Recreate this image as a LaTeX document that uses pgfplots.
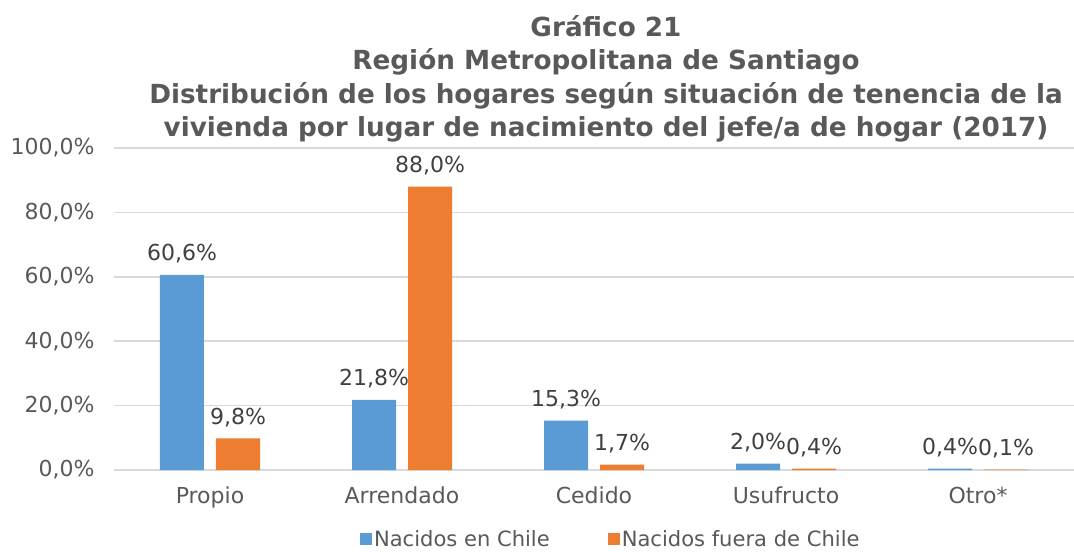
\documentclass[border=0pt]{standalone}
\usepackage{fontspec}
\setmainfont{DejaVu Sans}
\usepackage{pgfplots}
\pgfplotsset{compat=1.18}

\definecolor{cblue}{HTML}{5B9BD5}
\definecolor{corange}{HTML}{ED7D31}
\definecolor{cgrid}{HTML}{D9D9D9}
\definecolor{ctick}{HTML}{595959}
\definecolor{clabel}{HTML}{404040}

\begin{document}
\begin{tikzpicture}
\useasboundingbox (-85.5pt,-60.75pt) rectangle (720pt,352.5pt);
\begin{axis}[
    at={(0pt,0pt)}, anchor=south west,
    scale only axis,
    width=720pt, height=241.5pt,
    ybar=9pt, bar width=33pt,
    xmin=-0.5, xmax=4.5,
    ymin=0, ymax=100,
    ytick={0,20,40,60,80,100},
    xtick=data,
    xticklabels={Propio,Arrendado,Cedido,Usufructo,Otro*},
    axis line style={draw=none},
    major tick length=0pt,
    ymajorgrids,
    grid style={cgrid, line width=1.2pt},
    /pgf/number format/assume math mode=true,
    yticklabel={\pgfmathprintnumber[fixed,fixed zerofill,precision=1,use comma]{\tick}\%},
    yticklabel style={font=\fontsize{16.5}{20}\selectfont, text=ctick, xshift=-11pt},
    xticklabel style={font=\fontsize{16.5}{20}\selectfont, text=ctick, yshift=-9pt},
    nodes near coords={\pgfmathprintnumber[fixed,fixed zerofill,precision=1,use comma]{\pgfplotspointmeta}\%},
    every node near coord/.append style={font=\fontsize{16.5}{20}\selectfont, text=clabel, yshift=5pt},
    legend columns=2,
    legend style={draw=none, at={(0.5175,-0.215)}, anchor=center,
        font=\fontsize{15.8}{19}\selectfont, text=ctick,
        nodes={inner sep=1.5pt},
        /tikz/every even column/.append style={column sep=42pt},
        inner sep=0pt},
    legend image code/.code={\fill[#1] (0pt,-4.5pt) rectangle (9pt,4.5pt);},
]
\addplot[fill=cblue, draw=none] coordinates {(0,60.6) (1,21.8) (2,15.3) (3,2.0) (4,0.4)};
\addplot[fill=corange, draw=none] coordinates {(0,9.8) (1,88.0) (2,1.7) (3,0.4) (4,0.1)};
\legend{Nacidos en Chile,Nacidos fuera de Chile}
\end{axis}
\node[align=center, font=\bfseries\fontsize{19.7}{25}\selectfont, text=ctick] at (369pt,293.5pt)
{Gráfico 21\\Región Metropolitana de Santiago\\Distribución de los hogares según situación de tenencia de la\\vivienda por lugar de nacimiento del jefe/a de hogar (2017)};
\end{tikzpicture}
\end{document}
